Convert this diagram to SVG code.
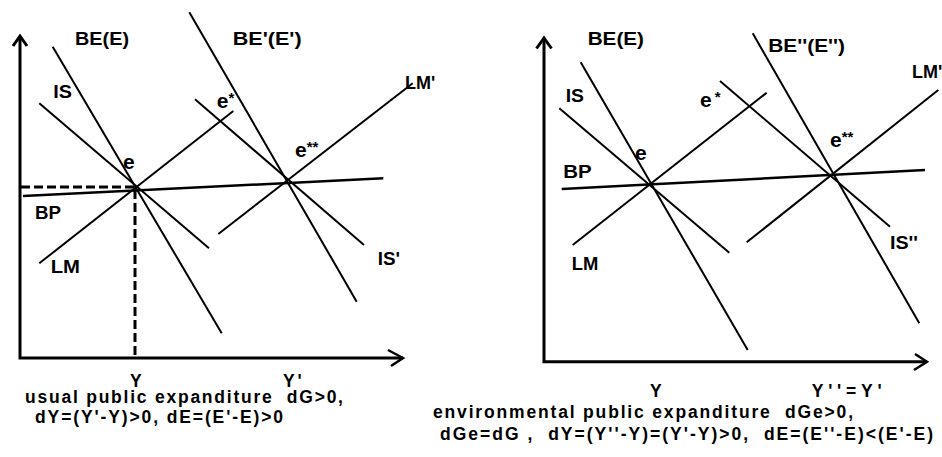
<svg xmlns="http://www.w3.org/2000/svg" width="942" height="457" viewBox="0 0 942 457">
<style>
text{font-family:"Liberation Sans",Arial,sans-serif;font-weight:bold;fill:#000;white-space:pre}
.lbl{font-size:18px}
.el{font-size:21px}
.cap{font-size:17.5px}
.ax{stroke:#000;stroke-width:3;fill:none}
.arr{stroke:#000;stroke-width:2.5;fill:none}
.ln{stroke:#000;stroke-width:2;fill:none}
.ds{stroke:#000;stroke-width:3;fill:none;stroke-dasharray:9 4}
</style>
<rect width="942" height="457" fill="#fff"/>

<g id="left-panel">
  <g id="left-axes">
    <polyline class="ax" points="20,36 20,358 403,358"/>
    <polyline class="ax" points="13,46 20,36 27,46"/>
    <polyline class="arr" points="388,350 403,358 391,366"/>
  </g>
  <g id="left-curves">
    <line id="L-BE" class="ln" x1="52.7" y1="46.7" x2="221.7" y2="333.3"/>
    <line id="L-IS" class="ln" x1="39.3" y1="103.3" x2="209" y2="248.3"/>
    <line id="L-LM" class="ln" x1="39.3" y1="263.3" x2="233.3" y2="111"/>
    <line id="L-BP" class="ln" x1="23" y1="196" x2="383.3" y2="178.3" style="stroke-width:2.5"/>
    <line id="L-BE2" class="ln" x1="189.3" y1="12.3" x2="356.7" y2="301.7"/>
    <line id="L-IS2" class="ln" x1="195" y1="99.3" x2="364" y2="245"/>
    <line id="L-LM2" class="ln" x1="218.3" y1="234" x2="412.7" y2="83.3"/>
    <polyline class="ds" points="21,187 135,187 135,357"/>
  </g>
  <g id="left-labels">
    <text class="lbl" x="75" y="45" textLength="54" lengthAdjust="spacingAndGlyphs">BE(E)</text>
    <text class="lbl" x="232.7" y="45" textLength="69" lengthAdjust="spacingAndGlyphs">BE'(E')</text>
    <text class="lbl" x="53.3" y="98" textLength="18.7" lengthAdjust="spacingAndGlyphs">IS</text>
    <text class="lbl" x="405" y="89">LM'</text>
    <text class="el" x="216.7" y="108.3">e<tspan font-size="15" dy="-5">*</tspan></text>
    <text class="el" x="295" y="156.7">e<tspan font-size="15" dy="-5">**</tspan></text>
    <text class="el" x="123" y="168.5">e</text>
    <text class="lbl" x="35" y="219" textLength="26" lengthAdjust="spacingAndGlyphs">BP</text>
    <text class="lbl" x="50.7" y="272.7" textLength="29.3" lengthAdjust="spacingAndGlyphs">LM</text>
    <text class="lbl" x="377.7" y="265" textLength="22.3" lengthAdjust="spacingAndGlyphs">IS'</text>
    <text class="cap" x="130" y="387">Y</text>
    <text class="cap" x="283" y="387" textLength="18.7" lengthAdjust="spacing">Y'</text>
    <text class="cap" x="25" y="402.5" textLength="318" lengthAdjust="spacing">usual public expanditure  dG&gt;0,</text>
    <text class="cap" x="35" y="422.5" textLength="248" lengthAdjust="spacing">dY=(Y'-Y)&gt;0, dE=(E'-E)&gt;0</text>
  </g>
</g>

<g id="right-panel">
  <g id="right-axes">
    <polyline class="ax" points="544,38 544,361.7 927,361.7"/>
    <polyline class="ax" points="536.5,48.5 544,38 551.5,48.5"/>
    <polyline class="arr" points="915,354 927,361.7 914,370"/>
  </g>
  <g id="right-curves">
    <line id="R-BE" class="ln" x1="580.7" y1="62.3" x2="747.7" y2="350"/>
    <line id="R-IS" class="ln" x1="559.3" y1="108.3" x2="729.3" y2="252.7"/>
    <line id="R-LM" class="ln" x1="572.7" y1="245" x2="766.7" y2="92.7"/>
    <line id="R-BP" class="ln" x1="561.7" y1="189" x2="925" y2="170" style="stroke-width:2.5"/>
    <line id="R-BE2" class="ln" x1="752.7" y1="33.3" x2="919.3" y2="323.3"/>
    <line id="R-IS2" class="ln" x1="720" y1="81" x2="890" y2="226.7"/>
    <line id="R-LM2" class="ln" x1="746.7" y1="242.3" x2="938.3" y2="90"/>
  </g>
  <g id="right-labels">
    <text class="lbl" x="587.7" y="45" textLength="56.3" lengthAdjust="spacingAndGlyphs">BE(E)</text>
    <text class="lbl" x="768.3" y="51.7" textLength="76.7" lengthAdjust="spacingAndGlyphs">BE''(E'')</text>
    <text class="lbl" x="912" y="78">LM'</text>
    <text class="lbl" x="565.7" y="101.7" textLength="18.3" lengthAdjust="spacingAndGlyphs">IS</text>
    <text class="el" x="700" y="107.3">e<tspan font-size="15" dy="-5" dx="3">*</tspan></text>
    <text class="el" x="830" y="146.7">e<tspan font-size="15" dy="-5">**</tspan></text>
    <text class="el" x="635" y="160">e</text>
    <text class="lbl" x="563.3" y="178.3" textLength="28.4" lengthAdjust="spacingAndGlyphs">BP</text>
    <text class="lbl" x="571.7" y="270" textLength="26.6" lengthAdjust="spacingAndGlyphs">LM</text>
    <text class="lbl" x="890" y="249" textLength="28" lengthAdjust="spacingAndGlyphs">IS''</text>
    <text class="cap" x="650" y="396.7">Y</text>
    <text class="cap" x="811.7" y="396.7" textLength="70" lengthAdjust="spacing">Y''=Y'</text>
    <text class="cap" x="433" y="418.3" textLength="420" lengthAdjust="spacing">environmental public expanditure  dGe&gt;0,</text>
    <text class="cap" x="440" y="440" textLength="493" lengthAdjust="spacing">dGe=dG ,  dY=(Y''-Y)=(Y'-Y)&gt;0,  dE=(E''-E)&lt;(E'-E)</text>
  </g>
</g>
</svg>
